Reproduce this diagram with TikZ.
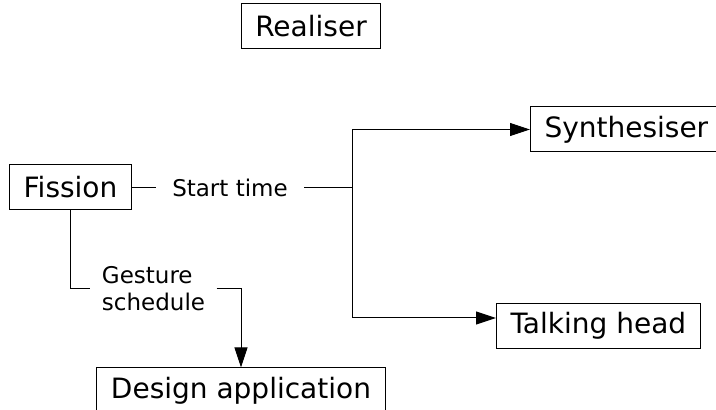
\documentclass[tikz,border=0pt]{standalone}
\usepackage{fontspec}
\setmainfont{DejaVu Sans}
\usetikzlibrary{arrows.meta}

\tikzset{
  module/.style={draw, line width=0.5pt, inner xsep=7pt, minimum height=22.5pt,
    font=\fontsize{14}{17}\selectfont},
  flowlabel/.style={inner ysep=0pt, font=\fontsize{11.5}{13.5}\selectfont, align=left},
  flow/.style={-{Triangle[length=10pt,width=6.5pt]}},
}

\begin{document}
\begin{tikzpicture}[x=0.5pt, y=-0.5pt, line width=0.5pt]
        \useasboundingbox (0, 0) rectangle (716, 410);

        \node[module] (realiser) at (311, 26.5) {Realiser};
        \node[module] (fission) at (70.5, 187.5) {Fission};
        \node[module, anchor=west] (synth) at (530, 129.5) {Synthesiser};
        \node[module, anchor=west] (talkhead) at (496, 326) {Talking head};
        \node[module, anchor=north] (design) at (241, 367.5) {Design application};

        \node[flowlabel, inner xsep=8pt] (starttime) at (230, 187.5) {Start time};
        \node[flowlabel, inner xsep=5.5pt] (gesture) at (153.5, 289) {Gesture\\schedule};

        \coordinate (fork) at (352, 187.5);
        \coordinate (thin) at ([yshift=4pt]talkhead.west);

        \draw (fission.east) -- (starttime.west);
        \draw (starttime.east) -- (fork);
        \draw[flow] (fork) |- (synth.west);
        \draw[flow] (fork) |- (thin);
        \draw (fission.south) |- (gesture.west);
        \draw[flow] (gesture.east) -| (design.north);
    \end{tikzpicture}
\end{document}
